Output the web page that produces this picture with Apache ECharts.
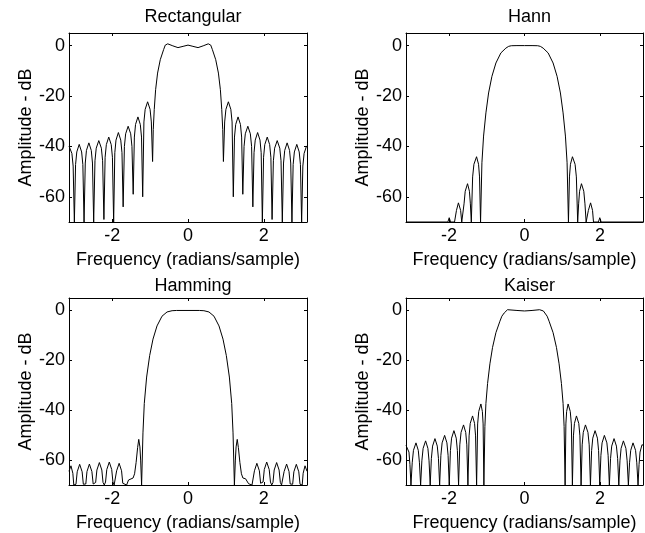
<!DOCTYPE html>
<html>
<head>
<meta charset="utf-8">
<script src="https://cdn.jsdelivr.net/npm/echarts@6/dist/echarts.min.js"></script>
<style>
  html, body { margin: 0; padding: 0; background: #fff; }
  #chart { width: 645px; height: 533px; }
</style>
</head>
<body>
<div id="chart"></div>
<script>
// ---------- data (frequency in rad/sample, amplitude in dB) ----------
const panelTitles = ['Rectangular', 'Hann', 'Hamming', 'Kaiser'];
const freqTicks = [-2, 0, 2];
const dbTicks = [-60, -40, -20, 0];
const xLabel = 'Frequency (radians/sample)';
const yLabel = 'Amplitude - dB';

const rectangular = [
  [-3.1416,-39.85],[-3.13,-39.8],[-3.065,-42.8],[-3.032,-47.8],[-3.0,-70],
  [-2.968,-47.2],[-2.936,-42.2],[-2.872,-39.2],[-2.808,-42.2],[-2.776,-47.2],[-2.744,-70],
  [-2.712,-46.6],[-2.681,-41.6],[-2.617,-38.6],[-2.553,-41.6],[-2.522,-46.6],[-2.49,-70],
  [-2.456,-45.7],[-2.423,-40.7],[-2.355,-37.7],[-2.287,-40.7],[-2.254,-45.7],[-2.22,-69],
  [-2.188,-44.3],[-2.156,-39.3],[-2.092,-36.3],[-2.027,-39.3],[-1.995,-44.3],[-1.963,-70],
  [-1.932,-42.5],[-1.901,-37.5],[-1.838,-34.5],[-1.775,-37.5],[-1.743,-42.5],[-1.712,-64],
  [-1.679,-40],[-1.646,-35],[-1.58,-32],[-1.513,-35],[-1.48,-40],[-1.447,-59],
  [-1.416,-36.3],[-1.385,-31.3],[-1.322,-28.3],[-1.259,-31.3],[-1.227,-36.3],[-1.196,-60],
  [-1.164,-30.3],[-1.131,-25.3],[-1.066,-22.3],[-1.001,-25.3],[-0.968,-30.3],[-0.935,-46],
  [-0.917,-33.3],[-0.891,-25.4],[-0.855,-17.5],[-0.803,-10.9],[-0.732,-5.6],[-0.644,-1.6],
  [-0.6,0.2],[-0.535,0.7],[-0.4,-0.1],[-0.265,-0.8],[-0.13,-0.3],
  [0,0.2],
  [0.13,-0.3],[0.265,-0.8],[0.4,-0.1],[0.535,0.7],[0.6,0.2],
  [0.644,-1.6],[0.732,-5.6],[0.803,-10.9],[0.855,-17.5],[0.891,-25.4],[0.917,-33.3],[0.935,-46],
  [0.968,-30.3],[1.001,-25.3],[1.066,-22.3],[1.131,-25.3],[1.164,-30.3],[1.196,-60],
  [1.227,-36.3],[1.259,-31.3],[1.322,-28.3],[1.385,-31.3],[1.416,-36.3],[1.447,-59],
  [1.48,-40],[1.513,-35],[1.58,-32],[1.646,-35],[1.679,-40],[1.712,-64],
  [1.743,-42.5],[1.775,-37.5],[1.838,-34.5],[1.901,-37.5],[1.932,-42.5],[1.963,-70],
  [1.995,-44.3],[2.027,-39.3],[2.092,-36.3],[2.156,-39.3],[2.188,-44.3],[2.22,-69],
  [2.254,-45.7],[2.287,-40.7],[2.355,-37.7],[2.423,-40.7],[2.456,-45.7],[2.49,-70],
  [2.522,-46.6],[2.553,-41.6],[2.617,-38.6],[2.681,-41.6],[2.712,-46.6],[2.744,-70],
  [2.776,-47.2],[2.808,-42.2],[2.872,-39.2],[2.936,-42.2],[2.968,-47.2],[3.0,-70],
  [3.032,-47.8],[3.065,-42.8],[3.13,-39.8],[3.1416,-39.85]
];

const hann = [
  [-3.1416,-70],[-2.032,-70],[-1.996,-68.3],[-1.96,-70],
  [-1.855,-70],[-1.829,-70],[-1.804,-65.4],[-1.752,-62.4],[-1.693,-65.4],[-1.664,-70],
  [-1.634,-70],[-1.603,-62.8],[-1.572,-57.8],[-1.51,-54.8],[-1.46,-57.8],[-1.435,-62.8],
  [-1.41,-70],[-1.375,-52.1],[-1.341,-47.1],[-1.271,-44.1],[-1.218,-47.1],[-1.192,-52.1],
  [-1.165,-70],[-1.129,-46.5],[-1.085,-35.9],[-1.023,-26.7],[-0.952,-18.8],[-0.864,-12.2],
  [-0.758,-6.9],[-0.626,-2.9],[-0.494,-1.0],[-0.42,-0.3],[-0.35,-0.05],[-0.2,0],
  [0,0],
  [0.2,0],[0.35,-0.05],[0.42,-0.3],[0.494,-1.0],[0.626,-2.9],[0.758,-6.9],
  [0.864,-12.2],[0.952,-18.8],[1.023,-26.7],[1.085,-35.9],[1.129,-46.5],[1.165,-70],
  [1.192,-52.1],[1.218,-47.1],[1.271,-44.1],[1.341,-47.1],[1.375,-52.1],[1.41,-70],
  [1.435,-62.8],[1.46,-57.8],[1.51,-54.8],[1.572,-57.8],[1.603,-62.8],[1.634,-70],
  [1.664,-70],[1.693,-65.4],[1.752,-62.4],[1.804,-65.4],[1.829,-70],[1.855,-70],
  [1.96,-70],[1.996,-68.3],[2.032,-70],[3.1416,-70]
];

const hamming = [
  [-3.1416,-64.5],[-3.09,-62.3],[-3.04,-65.3],[-3.015,-70],[-2.99,-70],
  [-2.958,-69.7],[-2.925,-64.7],[-2.86,-61.7],[-2.795,-64.7],[-2.763,-69.7],[-2.73,-70],
  [-2.698,-69.6],[-2.667,-64.6],[-2.603,-61.6],[-2.537,-64.6],[-2.503,-69.6],[-2.47,-70],
  [-2.438,-69],[-2.405,-64],[-2.34,-61],[-2.275,-64],[-2.243,-69],[-2.21,-70],
  [-2.177,-68.8],[-2.144,-63.8],[-2.078,-60.8],[-2.014,-63.8],[-1.982,-68.8],[-1.95,-70],
  [-1.917,-69.3],[-1.884,-64.3],[-1.818,-61.3],[-1.754,-64.3],[-1.722,-69.3],[-1.69,-70],
  [-1.62,-70],[-1.6,-69.5],[-1.57,-68],[-1.52,-67.5],[-1.45,-67.2],[-1.41,-65.5],[-1.37,-61],
  [-1.33,-55],[-1.3,-51.7],[-1.27,-54.7],[-1.25,-60],[-1.225,-70],
  [-1.189,-49.1],[-1.154,-37.3],[-1.092,-26.7],[-1.012,-18.1],[-0.924,-11.5],[-0.818,-6.2],
  [-0.686,-2.3],[-0.553,-0.6],[-0.42,-0.1],[-0.3,0],
  [0,0],
  [0.3,0],[0.42,-0.1],[0.553,-0.6],[0.686,-2.3],[0.818,-6.2],[0.924,-11.5],[1.012,-18.1],
  [1.092,-26.7],[1.154,-37.3],[1.189,-49.1],[1.225,-70],
  [1.25,-60],[1.27,-54.7],[1.3,-51.7],[1.33,-55],[1.37,-61],[1.41,-65.5],[1.45,-67.2],
  [1.52,-67.5],[1.57,-68],[1.6,-69.5],[1.62,-70],
  [1.69,-70],[1.722,-69.3],[1.754,-64.3],[1.818,-61.3],[1.884,-64.3],[1.917,-69.3],[1.95,-70],
  [1.982,-68.8],[2.014,-63.8],[2.078,-60.8],[2.144,-63.8],[2.177,-68.8],[2.21,-70],
  [2.243,-69],[2.275,-64],[2.34,-61],[2.405,-64],[2.438,-69],[2.47,-70],
  [2.503,-69.6],[2.537,-64.6],[2.603,-61.6],[2.667,-64.6],[2.698,-69.6],[2.73,-70],
  [2.763,-69.7],[2.795,-64.7],[2.86,-61.7],[2.925,-64.7],[2.958,-69.7],[2.99,-70],
  [3.015,-70],[3.04,-65.3],[3.09,-62.3],[3.1416,-64.5]
];

const kaiser = [
  [-3.1416,-54.1],[-3.116,-53.8],[-3.063,-56.8],[-3.037,-61.8],[-3.01,-70],
  [-2.977,-61.1],[-2.944,-56.1],[-2.877,-53.1],[-2.816,-56.1],[-2.785,-61.1],[-2.754,-70],
  [-2.721,-60.3],[-2.688,-55.3],[-2.622,-52.3],[-2.561,-55.3],[-2.531,-60.3],[-2.5,-70],
  [-2.469,-59.4],[-2.437,-54.4],[-2.374,-51.4],[-2.312,-54.4],[-2.281,-59.4],[-2.25,-70],
  [-2.217,-58.1],[-2.184,-53.1],[-2.118,-50.1],[-2.057,-53.1],[-2.026,-58.1],[-1.995,-70],
  [-1.964,-56.2],[-1.933,-51.2],[-1.871,-48.2],[-1.81,-51.2],[-1.779,-56.2],[-1.748,-70],
  [-1.715,-53.9],[-1.682,-48.9],[-1.616,-45.9],[-1.558,-48.9],[-1.529,-53.9],[-1.5,-70],
  [-1.469,-50.3],[-1.439,-45.3],[-1.377,-42.3],[-1.324,-45.3],[-1.297,-50.3],[-1.27,-70],
  [-1.242,-45.5],[-1.213,-40.5],[-1.156,-37.5],[-1.117,-40.5],[-1.097,-45.5],[-1.077,-70],
  [-1.05,-46.5],[-1.023,-37.3],[-0.979,-29.3],[-0.917,-21.4],[-0.847,-14.8],[-0.758,-8.9],
  [-0.652,-4.3],[-0.6,-2.3],[-0.538,-1.0],[-0.5,-0.2],[-0.45,0.3],[-0.4,0.3],[-0.2,0],
  [0,-0.2],
  [0.2,0],[0.4,0.3],[0.45,0.3],[0.5,-0.2],[0.538,-1.0],[0.6,-2.3],[0.652,-4.3],[0.758,-8.9],
  [0.847,-14.8],[0.917,-21.4],[0.979,-29.3],[1.023,-37.3],[1.05,-46.5],[1.077,-70],
  [1.097,-45.5],[1.117,-40.5],[1.156,-37.5],[1.213,-40.5],[1.242,-45.5],[1.27,-70],
  [1.297,-50.3],[1.324,-45.3],[1.377,-42.3],[1.439,-45.3],[1.469,-50.3],[1.5,-70],
  [1.529,-53.9],[1.558,-48.9],[1.616,-45.9],[1.682,-48.9],[1.715,-53.9],[1.748,-70],
  [1.779,-56.2],[1.81,-51.2],[1.871,-48.2],[1.933,-51.2],[1.964,-56.2],[1.995,-70],
  [2.026,-58.1],[2.057,-53.1],[2.118,-50.1],[2.184,-53.1],[2.217,-58.1],[2.25,-70],
  [2.281,-59.4],[2.312,-54.4],[2.374,-51.4],[2.437,-54.4],[2.469,-59.4],[2.5,-70],
  [2.531,-60.3],[2.561,-55.3],[2.622,-52.3],[2.688,-55.3],[2.721,-60.3],[2.754,-70],
  [2.785,-61.1],[2.816,-56.1],[2.877,-53.1],[2.944,-56.1],[2.977,-61.1],[3.01,-70],
  [3.037,-61.8],[3.063,-56.8],[3.116,-53.8],[3.1416,-54.1]
];

const responses = [rectangular, hann, hamming, kaiser];

// ---------- layout ----------
const FONT = '"Liberation Sans", Arial, Helvetica, sans-serif';
const grids = [
  { left: 69, top: 33, width: 238, height: 189 },
  { left: 406, top: 33, width: 237, height: 189 },
  { left: 69, top: 298, width: 238, height: 189 },
  { left: 406, top: 298, width: 237, height: 189 }
];
const titleTops = [3, 3, 272, 272];

const XMIN = -Math.PI, XMAX = Math.PI, YMIN = -70, YMAX = 5;
const textStyle = { color: '#000', fontSize: 18, fontFamily: FONT, fontWeight: 'normal' };
const lineBlack = { lineStyle: { color: '#000', width: 1 } };

const title = [], xAxis = [], yAxis = [], series = [];
grids.forEach((g, i) => {
  title.push({
    text: panelTitles[i],
    left: g.left + g.width / 2,
    top: titleTops[i],
    textAlign: 'center',
    textStyle: textStyle
  });
  xAxis.push({
    gridIndex: i, type: 'value', position: 'bottom', min: XMIN, max: XMAX,
    axisLine: { show: true, onZero: false, ...lineBlack },
    axisTick: { show: true, inside: true, length: 3, customValues: freqTicks, ...lineBlack },
    axisLabel: { show: true, customValues: freqTicks, margin: 5, color: '#000', fontSize: 18, fontFamily: FONT },
    splitLine: { show: false },
    name: xLabel, nameLocation: 'middle', nameGap: 29, nameTextStyle: textStyle
  });
  xAxis.push({
    gridIndex: i, type: 'value', position: 'top', min: XMIN, max: XMAX,
    axisLine: { show: true, onZero: false, ...lineBlack },
    axisTick: { show: true, inside: true, length: 3, customValues: freqTicks, ...lineBlack },
    axisLabel: { show: false },
    splitLine: { show: false }
  });
  yAxis.push({
    gridIndex: i, type: 'value', position: 'left', min: YMIN, max: YMAX,
    axisLine: { show: true, onZero: false, ...lineBlack },
    axisTick: { show: true, inside: true, length: 3, customValues: dbTicks, ...lineBlack },
    axisLabel: { show: true, customValues: dbTicks, margin: 4, color: '#000', fontSize: 18, fontFamily: FONT },
    splitLine: { show: false },
    name: yLabel, nameLocation: 'middle', nameGap: 32, nameRotate: 90, nameTextStyle: textStyle
  });
  yAxis.push({
    gridIndex: i, type: 'value', position: 'right', min: YMIN, max: YMAX,
    axisLine: { show: true, onZero: false, ...lineBlack },
    axisTick: { show: true, inside: true, length: 3, customValues: dbTicks, ...lineBlack },
    axisLabel: { show: false },
    splitLine: { show: false }
  });
  series.push({
    type: 'line',
    xAxisIndex: 2 * i,
    yAxisIndex: 2 * i,
    data: responses[i],
    showSymbol: false,
    symbol: 'none',
    clip: true,
    lineStyle: { color: '#000', width: 1 },
    emphasis: { disabled: true },
    animation: false
  });
});

const chart = echarts.init(document.getElementById('chart'), null, { renderer: 'canvas' });
chart.setOption({
  animation: false,
  backgroundColor: '#fff',
  title: title,
  grid: grids,
  xAxis: xAxis,
  yAxis: yAxis,
  series: series
});
</script>
</body>
</html>
